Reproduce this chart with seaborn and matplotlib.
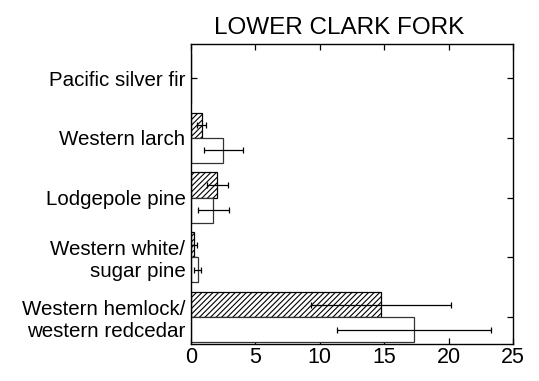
import numpy as np
import pandas as pd
import matplotlib
matplotlib.use("Agg")
import matplotlib.pyplot as plt
import seaborn as sns

# ============================== DATA ==============================
species = ["Pacific silver fir", "Western larch", "Lodgepole pine",
           "Western white/\nsugar pine", "Western hemlock/\nwestern redcedar"]
groups = ["A", "B"]  # hatched, open
vals_a = [0.0, 0.83, 2.05, 0.23, 14.75]
err_a = [0.0, 0.35, 0.8, 0.2, 5.4]
vals_b = [0.0, 2.5, 1.73, 0.52, 17.3]
err_b = [0.0, 1.5, 1.2, 0.25, 6.0]

df = pd.DataFrame({
    "species": species * 2,
    "group": [groups[0]] * len(species) + [groups[1]] * len(species),
    "value": vals_a + vals_b,
    "err": err_a + err_b,
})

# ============================== STYLE ==============================
sns.set_style("white")
plt.rcParams['font.family'] = ['Liberation Sans', 'DejaVu Sans']
plt.rcParams['hatch.linewidth'] = 0.8
plt.rcParams['text.color'] = 'black'
plt.rcParams['xtick.color'] = 'black'
plt.rcParams['ytick.color'] = 'black'

fig = plt.figure(figsize=(5.39, 3.81), dpi=100)
ax = fig.add_axes([191 / 539, 1 - 344 / 381, 322 / 539, 300 / 381])

sns.barplot(data=df, x="value", y="species", hue="group", order=species,
            hue_order=groups, orient="h", width=0.84, gap=0, errorbar=None,
            palette=["white", "white"], edgecolor="black", linewidth=0.9,
            legend=False, ax=ax)

# hatch first group, draw error bars at bar centres
n = len(species)
for i, p in enumerate(ax.patches[:2 * n]):
    grp = i // n
    k = i % n
    if grp == 0:
        p.set_hatch("//////")
    else:
        p.set_edgecolor("#333333")
    e = (err_a if grp == 0 else err_b)[k]
    v = (vals_a if grp == 0 else vals_b)[k]
    if e > 0:
        yc = p.get_y() + p.get_height() / 2
        ax.errorbar(v, yc, xerr=e, fmt="none", ecolor="black",
                    elinewidth=0.9, capsize=2.2, capthick=0.9)

ax.set_xlim(0, 25)
ax.set_ylim(4.45, -0.57)
ax.set_xticks([0, 5, 10, 15, 20, 25])
ax.set_xlabel("")
ax.set_ylabel("")
ax.set_title("LOWER CLARK FORK", fontsize=17.5, pad=7, color="black", x=0.46)
ax.tick_params(axis="x", labelsize=15.5, direction="in", length=4,
               top=True, bottom=True, width=0.9, pad=2, labelcolor="black")
ax.tick_params(axis="y", labelsize=14.8, direction="in", length=4,
               left=True, right=True, width=0.9, pad=4, labelcolor="black")
for s in ax.spines.values():
    s.set_visible(True)
    s.set_color("black")
    s.set_linewidth(1.0)

fig.savefig("out.png", dpi=100, facecolor="white")
